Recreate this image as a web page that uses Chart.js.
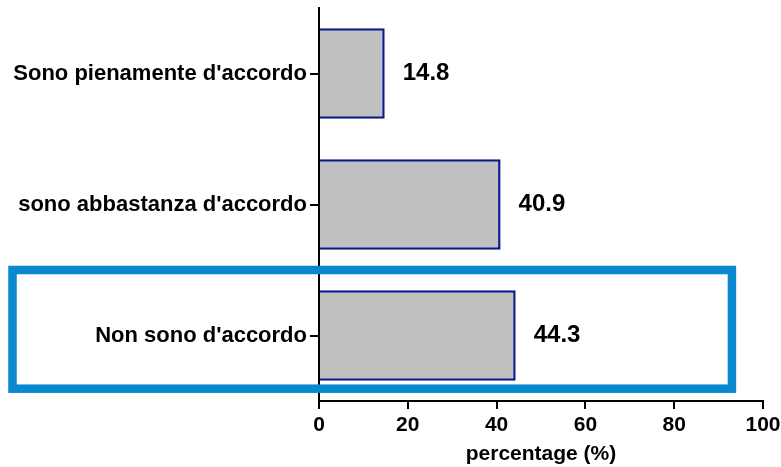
<!DOCTYPE html>
<html>
<head>
<meta charset="utf-8">
<script src="https://cdn.jsdelivr.net/npm/chart.js@4/dist/chart.umd.min.js"></script>
<style>
  html, body { margin: 0; padding: 0; background: #fff; }
  #wrap { width: 781px; height: 467px; }
</style>
</head>
<body>
<div id="wrap"><canvas id="chart" width="781" height="467"></canvas></div>
<script>
const categories = ["Sono pienamente d'accordo", "sono abbastanza d'accordo", "Non sono d'accordo"];
const percentages = [14.8, 40.9, 44.3];
const xTicks = [0, 20, 40, 60, 80, 100];
const highlightIndex = 2;

const FONT = "'Liberation Sans', Arial, Helvetica, sans-serif";

// etichette di valore a destra delle barre
const valueLabels = {
    id: 'valueLabels',
    afterDatasetsDraw(chart) {
        const ctx = chart.ctx;
        const meta = chart.getDatasetMeta(0);
        ctx.save();
        ctx.font = 'bold 24px ' + FONT;
        ctx.fillStyle = '#000';
        ctx.textAlign = 'left';
        ctx.textBaseline = 'middle';
        meta.data.forEach((bar, i) => {
            ctx.fillText(percentages[i].toFixed(1), bar.x + 18, bar.y);
        });
        ctx.restore();
    }
};

// riquadro azzurro attorno alla riga evidenziata
const highlightBox = {
    id: 'highlightBox',
    afterDraw(chart) {
        const ctx = chart.ctx;
        const x = chart.scales.x;
        const y = chart.scales.y;
        const bar = chart.getDatasetMeta(0).data[highlightIndex];
        const top = y.getPixelForValue(highlightIndex - 0.5);
        const bottom = bar.y + bar.height / 2 + 8;
        const left = 12.5;
        const right = x.getPixelForValue(93);
        ctx.save();
        ctx.strokeStyle = '#0788cf';
        ctx.lineWidth = 8.5;
        ctx.strokeRect(left, top, right - left, bottom - top);
        ctx.restore();
    }
};

new Chart(document.getElementById('chart'), {
    type: 'bar',
    data: {
        labels: categories,
        datasets: [{
            data: percentages,
            backgroundColor: '#c0c0c0',
            borderColor: '#0b1a8a',
            borderWidth: 2.5,
            barPercentage: 0.69,
            categoryPercentage: 1
        }]
    },
    options: {
        indexAxis: 'y',
        responsive: false,
        animation: false,
        layout: { padding: { left: 0, right: 18, top: 8, bottom: 0 } },
        plugins: {
            legend: { display: false },
            tooltip: { enabled: false }
        },
        scales: {
            x: {
                min: 0,
                max: 100,
                afterBuildTicks(axis) {
                    axis.ticks = xTicks.map(v => ({ value: v }));
                },
                afterFit(axis) {
                    axis.height = 66;
                    axis.paddingLeft = 0;
                    axis.paddingRight = 0;
                },
                grid: {
                    display: true,
                    drawOnChartArea: false,
                    drawTicks: true,
                    tickLength: 8,
                    color: '#000',
                    lineWidth: 2
                },
                border: { display: true, color: '#000', width: 2 },
                ticks: {
                    color: '#000',
                    padding: 4,
                    maxRotation: 0,
                    font: { family: FONT, size: 21, weight: 'bold' }
                },
                title: {
                    display: true,
                    text: 'percentage (%)',
                    color: '#000',
                    padding: { top: 3, bottom: 0 },
                    font: { family: FONT, size: 21, weight: 'bold' }
                }
            },
            y: {
                offset: true,
                afterFit(axis) {
                    axis.width = 319;
                    axis.paddingTop = 0;
                    axis.paddingBottom = 0;
                },
                grid: {
                    display: true,
                    offset: false,
                    drawOnChartArea: false,
                    drawTicks: true,
                    tickLength: 9,
                    color: '#000',
                    lineWidth: 2
                },
                border: { display: true, color: '#000', width: 2 },
                ticks: {
                    color: '#000',
                    padding: 3,
                    font: { family: FONT, size: 22, weight: 'bold' }
                }
            }
        }
    },
    plugins: [valueLabels, highlightBox]
});
</script>
</body>
</html>
